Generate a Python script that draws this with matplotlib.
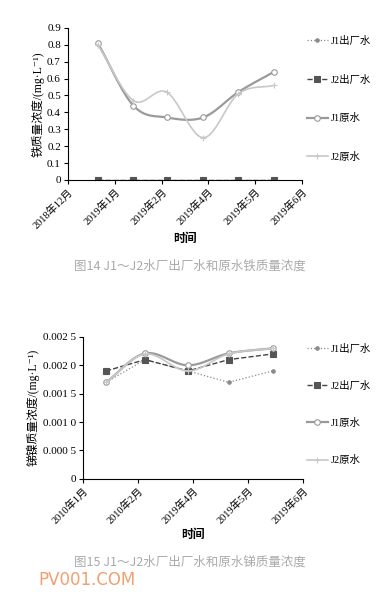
import matplotlib.pyplot as plt
import numpy as np

plt.rcParams['font.family'] = ['Liberation Serif', 'Noto Sans CJK SC', 'DejaVu Sans']

# ---- figure 14: iron ----
fe_ticks = ['2018年12月', '2019年1月', '2019年2月', '2019年4月', '2019年5月', '2019年6月']
fe_x = [0.64, 1.40, 2.11, 2.89, 3.64, 4.40]
fe_j1_out = [0, 0, 0, 0, 0, 0]
fe_j2_out = [0, 0, 0, 0, 0, 0]
fe_j1_raw = [0.81, 0.44, 0.37, 0.37, 0.52, 0.64]
fe_j2_raw = [0.80, 0.47, 0.52, 0.25, 0.51, 0.56]

# ---- figure 15: antimony ----
sb_ticks = ['2010年1月', '2010年2月', '2019年4月', '2019年5月', '2019年6月']
sb_x = [0.42, 1.13, 1.91, 2.65, 3.45]
sb_j1_out = [0.0017, 0.0021, 0.0019, 0.0017, 0.0019]
sb_j2_out = [0.0019, 0.0021, 0.0019, 0.0021, 0.0022]
sb_j1_raw = [0.0017, 0.00221, 0.00200, 0.00221, 0.0023]
sb_j2_raw = [0.0017, 0.00220, 0.00190, 0.00220, 0.0023]

labels = ['J1出厂水', 'J2出厂水', 'J1原水', 'J2原水']


def smooth(x, y, n=20):
    # catmull-rom, roughly what excel's smoothed line does
    x = np.asarray(x, float); y = np.asarray(y, float)
    px = np.concatenate([[2 * x[0] - x[1]], x, [2 * x[-1] - x[-2]]])
    py = np.concatenate([[2 * y[0] - y[1]], y, [2 * y[-1] - y[-2]]])
    xs, ys = [], []
    t = np.linspace(0, 1, n)
    for i in range(1, len(px) - 2):
        for p, out in ((px, xs), (py, ys)):
            p0, p1, p2, p3 = p[i - 1], p[i], p[i + 1], p[i + 2]
            out.extend(0.5 * (2 * p1 + (-p0 + p2) * t + (2 * p0 - 5 * p1 + 4 * p2 - p3) * t ** 2
                              + (-p0 + 3 * p1 - 3 * p2 + p3) * t ** 3))
    return xs, ys


styles = [
    dict(color='#8a8a8a', ls=':', lw=0.9, marker='o', ms=2.5, mfc='#8a8a8a', mec='#8a8a8a'),
    dict(color='#444444', ls='--', lw=1.0, marker='s', ms=4, mfc='#555555', mec='#555555'),
    dict(color='#9a9a9a', ls='-', lw=1.6, marker='o', ms=4, mfc='white', mec='#9a9a9a'),
    dict(color='#c8c8c8', ls='-', lw=1.2, marker='+', ms=4, mfc='#c8c8c8', mec='#c8c8c8'),
]


def draw(ax, x, series, smooth_flags, ticks, ylim, yticks, yticklabels, ylabel):
    handles = []
    for ys, st, sm, lab in zip(series, styles, smooth_flags, labels):
        if sm:
            sx, sy = smooth(x, ys)
            ax.plot(sx, sy, color=st['color'], ls=st['ls'], lw=st['lw'])
            ax.plot(x, ys, ls='none', marker=st['marker'], ms=st['ms'],
                    mfc=st['mfc'], mec=st['mec'], mew=0.8)
        else:
            ax.plot(x, ys, color=st['color'], ls=st['ls'], lw=st['lw'], marker=st['marker'],
                    ms=st['ms'], mfc=st['mfc'], mec=st['mec'], mew=0.8)
        h, = ax.plot([], [], label=lab, mew=0.8, **st)
        handles.append(h)
    ax.set_xlim(0, len(ticks) - 1)
    ax.set_xticks(range(len(ticks)))
    ax.set_xticklabels(ticks, rotation=45, ha='right', rotation_mode='anchor', fontsize=7.5)
    ax.set_ylim(*ylim)
    ax.set_yticks(yticks)
    ax.set_yticklabels(yticklabels, fontsize=8)
    ax.set_ylabel(ylabel, fontsize=8.5, labelpad=2)
    ax.set_xlabel('时间', fontsize=8.5, fontweight='bold', labelpad=2)
    for s in ('top', 'right'):
        ax.spines[s].set_visible(False)
    ax.spines['left'].set_linewidth(0.8)
    ax.spines['bottom'].set_linewidth(0.8)
    ax.tick_params(length=3, width=0.8, pad=2)
    return handles


fig = plt.figure(figsize=(3.79, 6.06), dpi=100)

ax1 = fig.add_axes([0.179, 0.703, 0.618, 0.251])
h = draw(ax1, fe_x, [fe_j1_out, fe_j2_out, fe_j1_raw, fe_j2_raw], [False, False, True, True],
         fe_ticks, (0, 0.9), np.arange(0, 0.91, 0.1),
         ['0'] + ['%.1f' % v for v in np.arange(0.1, 0.91, 0.1)],
         '铁质量浓度/(mg·L⁻¹)')
fig.legend(handles=h, loc='upper left', bbox_to_anchor=(0.785, 0.956), frameon=False,
           fontsize=7.5, labelspacing=2.75, handlelength=2.0, handletextpad=0.3)

ax2 = fig.add_axes([0.219, 0.210, 0.580, 0.234])
h = draw(ax2, sb_x, [sb_j1_out, sb_j2_out, sb_j1_raw, sb_j2_raw], [False, False, True, True],
         sb_ticks, (0, 0.0025), np.arange(0, 0.00251, 0.0005),
         ['0', '0.000 5', '0.001 0', '0.001 5', '0.002 0', '0.002 5'],
         '锑镍质量浓度/(mg·L⁻¹)')
fig.legend(handles=h, loc='upper left', bbox_to_anchor=(0.785, 0.448), frameon=False,
           fontsize=7.5, labelspacing=2.6, handlelength=2.0, handletextpad=0.3)

fig.text(0.50, 1 - 266 / 606, '图14 J1～J2水厂出厂水和原水铁质量浓度', ha='center', va='center',
         fontsize=9, color='#aaaaaa', family=['Noto Sans CJK SC'])
fig.text(0.50, 1 - 562 / 606, '图15 J1～J2水厂出厂水和原水锑质量浓度', ha='center', va='center',
         fontsize=9, color='#aaaaaa', family=['Noto Sans CJK SC'])
fig.text(0.10, 1 - 580 / 606, 'PV001.COM', ha='left', va='center',
         fontsize=12, color='#f0a070', family=['DejaVu Sans'])

fig.savefig('out.png', dpi=100)
